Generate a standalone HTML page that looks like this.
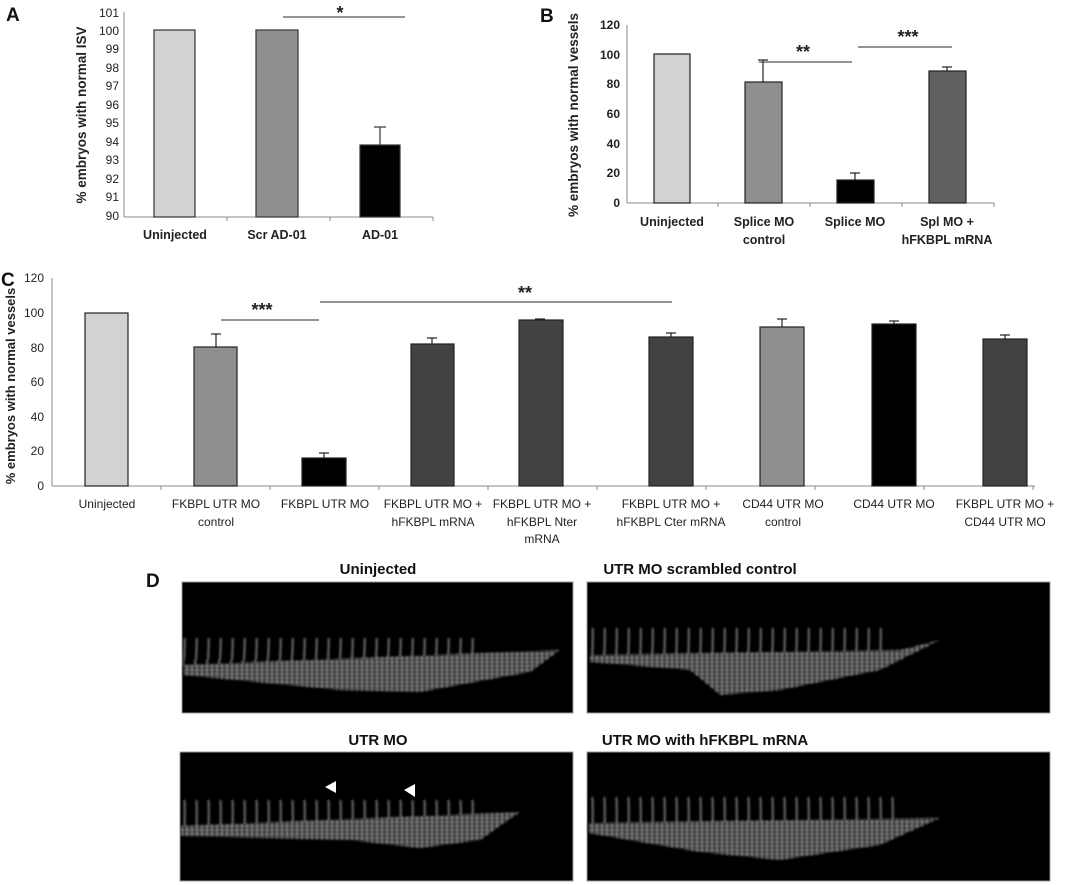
<!DOCTYPE html>
<html><head><meta charset="utf-8"><style>
html,body{margin:0;padding:0;background:#fff;}
svg{display:block;font-family:"Liberation Sans",sans-serif;}
</style></head><body>
<svg width="1067" height="885" viewBox="0 0 1067 885" xmlns="http://www.w3.org/2000/svg">
<defs>
<pattern id="isv" width="12" height="60" patternUnits="userSpaceOnUse">
<path d="M3 0 Q6 25 4 60" stroke="#bbb" stroke-width="1.5" fill="none"/>
</pattern>
<pattern id="spk" width="5" height="4" patternUnits="userSpaceOnUse">
<rect width="5" height="4" fill="#444"/><rect x="1" y="1" width="2" height="2" fill="#ccc"/>
</pattern>
<filter id="bl"><feGaussianBlur stdDeviation="1"/></filter>
</defs>

<!-- Panel A -->
<text x="6" y="21" font-size="19" font-weight="bold" fill="#111">A</text>
<g font-size="12" fill="#222" text-anchor="end">
<text x="119" y="17">101</text><text x="119" y="35">100</text><text x="119" y="53">99</text>
<text x="119" y="72">98</text><text x="119" y="90">97</text><text x="119" y="109">96</text>
<text x="119" y="127">95</text><text x="119" y="146">94</text><text x="119" y="164">93</text>
<text x="119" y="183">92</text><text x="119" y="201">91</text><text x="119" y="220">90</text>
</g>
<g stroke="#888" stroke-width="1">
<line x1="124" y1="12" x2="124" y2="217"/><line x1="124" y1="217" x2="433" y2="217"/>
<line x1="227" y1="217" x2="227" y2="221"/><line x1="330" y1="217" x2="330" y2="221"/><line x1="433" y1="217" x2="433" y2="221"/>
</g>
<g stroke="#333" stroke-width="1.2">
<rect x="154" y="30" width="41" height="187" fill="#d2d2d2"/>
<rect x="256" y="30" width="42" height="187" fill="#8f8f8f"/>
<rect x="360" y="145" width="40" height="72" fill="#000"/>
<line x1="380" y1="145" x2="380" y2="127"/><line x1="374" y1="127" x2="386" y2="127"/>
<line x1="283" y1="17" x2="405" y2="17" stroke="#555"/>
</g>
<text x="340" y="19" font-size="18" font-weight="bold" text-anchor="middle" fill="#222">*</text>
<text transform="translate(86,115) rotate(-90)" font-size="13.5" font-weight="bold" text-anchor="middle" fill="#222">% embryos with normal ISV</text>
<g font-size="12.5" font-weight="bold" fill="#222" text-anchor="middle">
<text x="175" y="239">Uninjected</text><text x="277" y="239">Scr AD-01</text><text x="380" y="239">AD-01</text>
</g>

<!-- Panel B -->
<text x="540" y="22" font-size="19" font-weight="bold" fill="#111">B</text>
<g font-size="12" font-weight="bold" fill="#222" text-anchor="end">
<text x="620" y="29">120</text><text x="620" y="59">100</text><text x="620" y="88">80</text>
<text x="620" y="118">60</text><text x="620" y="148">40</text><text x="620" y="177">20</text><text x="620" y="207">0</text>
</g>
<g stroke="#888" stroke-width="1">
<line x1="627" y1="25" x2="627" y2="203"/><line x1="627" y1="203" x2="994" y2="203"/>
<line x1="718" y1="203" x2="718" y2="207"/><line x1="810" y1="203" x2="810" y2="207"/><line x1="902" y1="203" x2="902" y2="207"/><line x1="994" y1="203" x2="994" y2="207"/>
</g>
<g stroke="#222" stroke-width="1.2">
<rect x="654" y="54" width="36" height="149" fill="#d2d2d2"/>
<rect x="745" y="82" width="37" height="121" fill="#8f8f8f"/>
<line x1="763" y1="82" x2="763" y2="60"/><line x1="758" y1="60" x2="768" y2="60"/>
<rect x="837" y="180" width="37" height="23" fill="#000"/>
<line x1="855" y1="180" x2="855" y2="173"/><line x1="850" y1="173" x2="860" y2="173"/>
<rect x="929" y="71" width="37" height="132" fill="#606060"/>
<line x1="947" y1="71" x2="947" y2="67"/><line x1="942" y1="67" x2="952" y2="67"/>
<line x1="759" y1="62" x2="852" y2="62" stroke="#555"/>
<line x1="858" y1="47" x2="952" y2="47" stroke="#555"/>
</g>
<text x="803" y="58" font-size="18" font-weight="bold" text-anchor="middle" fill="#222">**</text>
<text x="908" y="43" font-size="18" font-weight="bold" text-anchor="middle" fill="#222">***</text>
<text transform="translate(578,115) rotate(-90)" font-size="13.5" font-weight="bold" text-anchor="middle" fill="#222">% embryos with normal vessels</text>
<g font-size="12.5" font-weight="bold" fill="#222" text-anchor="middle">
<text x="672" y="226">Uninjected</text><text x="764" y="226">Splice MO</text><text x="764" y="244">control</text>
<text x="855" y="226">Splice MO</text><text x="947" y="226">Spl MO +</text><text x="947" y="244">hFKBPL mRNA</text>
</g>

<!-- Panel C -->
<text x="1" y="286" font-size="19" font-weight="bold" fill="#111">C</text>
<g font-size="12" fill="#222" text-anchor="end">
<text x="44" y="282">120</text><text x="44" y="317">100</text><text x="44" y="352">80</text>
<text x="44" y="386">60</text><text x="44" y="421">40</text><text x="44" y="455">20</text><text x="44" y="490">0</text>
</g>
<g stroke="#888" stroke-width="1">
<line x1="52" y1="278" x2="52" y2="486"/><line x1="52" y1="486" x2="1035" y2="486"/>
<line x1="161" y1="486" x2="161" y2="490"/><line x1="270" y1="486" x2="270" y2="490"/><line x1="379" y1="486" x2="379" y2="490"/>
<line x1="488" y1="486" x2="488" y2="490"/><line x1="597" y1="486" x2="597" y2="490"/><line x1="706" y1="486" x2="706" y2="490"/>
<line x1="815" y1="486" x2="815" y2="490"/><line x1="924" y1="486" x2="924" y2="490"/><line x1="1033" y1="486" x2="1033" y2="490"/>
</g>
<g stroke="#222" stroke-width="1.2">
<rect x="85" y="313" width="43" height="173" fill="#d2d2d2"/>
<rect x="194" y="347" width="43" height="139" fill="#8f8f8f"/>
<line x1="216" y1="347" x2="216" y2="334"/><line x1="211" y1="334" x2="221" y2="334"/>
<rect x="302" y="458" width="44" height="28" fill="#000"/>
<line x1="324" y1="458" x2="324" y2="453"/><line x1="319" y1="453" x2="329" y2="453"/>
<rect x="411" y="344" width="43" height="142" fill="#424242"/>
<line x1="432" y1="344" x2="432" y2="338"/><line x1="427" y1="338" x2="437" y2="338"/>
<rect x="519" y="320" width="44" height="166" fill="#424242"/>
<line x1="535" y1="319" x2="545" y2="319"/>
<rect x="649" y="337" width="44" height="149" fill="#424242"/>
<line x1="671" y1="337" x2="671" y2="333"/><line x1="666" y1="333" x2="676" y2="333"/>
<rect x="760" y="327" width="44" height="159" fill="#8f8f8f"/>
<line x1="782" y1="327" x2="782" y2="319"/><line x1="777" y1="319" x2="787" y2="319"/>
<rect x="872" y="324" width="44" height="162" fill="#000"/>
<line x1="894" y1="324" x2="894" y2="321"/><line x1="889" y1="321" x2="899" y2="321"/>
<rect x="983" y="339" width="44" height="147" fill="#424242"/>
<line x1="1005" y1="339" x2="1005" y2="335"/><line x1="1000" y1="335" x2="1010" y2="335"/>
<line x1="221" y1="320" x2="319" y2="320" stroke="#555"/>
<line x1="320" y1="302" x2="672" y2="302" stroke="#555"/>
</g>
<text x="262" y="316" font-size="18" font-weight="bold" text-anchor="middle" fill="#222">***</text>
<text x="525" y="299" font-size="18" font-weight="bold" text-anchor="middle" fill="#222">**</text>
<text transform="translate(15,386) rotate(-90)" font-size="13" font-weight="bold" text-anchor="middle" fill="#222">% embryos with normal vessels</text>
<g font-size="12" fill="#222" text-anchor="middle">
<text x="107" y="508">Uninjected</text>
<text x="216" y="508">FKBPL UTR MO</text><text x="216" y="526">control</text>
<text x="325" y="508">FKBPL UTR MO</text>
<text x="433" y="508">FKBPL UTR MO +</text><text x="433" y="526">hFKBPL mRNA</text>
<text x="542" y="508">FKBPL UTR MO +</text><text x="542" y="526">hFKBPL Nter</text><text x="542" y="543">mRNA</text>
<text x="671" y="508">FKBPL UTR MO +</text><text x="671" y="526">hFKBPL Cter mRNA</text>
<text x="783" y="508">CD44 UTR MO</text><text x="783" y="526">control</text>
<text x="894" y="508">CD44 UTR MO</text>
<text x="1005" y="508">FKBPL UTR MO +</text><text x="1005" y="526">CD44 UTR MO</text>
</g>

<!-- Panel D -->
<text x="146" y="587" font-size="19" font-weight="bold" fill="#111">D</text>
<g font-size="15" font-weight="bold" fill="#111" text-anchor="middle">
<text x="378" y="574">Uninjected</text>
<text x="700" y="574">UTR MO scrambled control</text>
<text x="378" y="745">UTR MO</text>
<text x="705" y="745">UTR MO with hFKBPL mRNA</text>
</g>
<rect x="182" y="582" width="391" height="131" fill="#000" stroke="#999"/>
<rect x="587" y="582" width="463" height="131" fill="#000" stroke="#999"/>
<rect x="180" y="752" width="393" height="129" fill="#000" stroke="#999"/>
<rect x="587" y="752" width="463" height="129" fill="#000" stroke="#999"/>

<g filter="url(#bl)" opacity="0.8">
<rect x="183" y="638" width="300" height="30" fill="url(#isv)"/>
<path d="M183 665 L560 650 L530 672 L420 692 L340 690 L183 675Z" fill="url(#spk)"/>
<rect x="590" y="628" width="300" height="28" fill="url(#isv)"/>
<path d="M590 655 L900 650 L940 640 L880 670 L780 690 L720 695 L690 670 L590 662Z" fill="url(#spk)"/>
<rect x="181" y="800" width="300" height="26" fill="url(#isv)"/>
<path d="M181 826 L520 812 L480 840 L420 848 L350 840 L181 836Z" fill="url(#spk)"/>
<rect x="588" y="797" width="310" height="28" fill="url(#isv)"/>
<path d="M588 823 L940 818 L880 845 L780 860 L700 852 L588 833Z" fill="url(#spk)"/>
</g>
<polygon points="325,787 336,781 336,793" fill="#fff"/>
<polygon points="404,790 415,784 415,797" fill="#fff"/>
</svg>
</body></html>
